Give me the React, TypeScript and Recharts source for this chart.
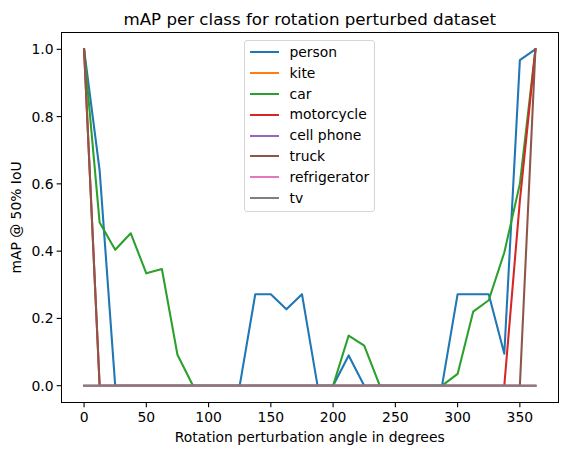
import { LineChart, Line, XAxis, YAxis, Legend } from 'recharts'

// rotation angles (degrees) the model was evaluated at
const angles = [
  0, 12.5, 25, 37.5, 50, 62.5, 75, 87.5, 100, 112.5, 125, 137.5, 150, 162.5, 175,
  187.5, 200, 212.5, 225, 237.5, 250, 262.5, 275, 287.5, 300, 312.5, 325, 337.5, 350, 362.5,
]

const person = [
  1.0, 0.64, 0, 0, 0, 0, 0, 0, 0, 0, 0, 0.272, 0.272, 0.227, 0.272,
  0, 0, 0.09, 0, 0, 0, 0, 0, 0, 0.272, 0.272, 0.272, 0.095, 0.968, 1.0,
]
const kite = [
  0, 0, 0, 0, 0, 0, 0, 0, 0, 0, 0, 0, 0, 0, 0,
  0, 0, 0, 0, 0, 0, 0, 0, 0, 0, 0, 0, 0, 0, 0,
]
const car = [
  1.0, 0.485, 0.404, 0.453, 0.334, 0.347, 0.092, 0, 0, 0, 0, 0, 0, 0, 0,
  0, 0, 0.149, 0.119, 0, 0, 0, 0, 0, 0.035, 0.22, 0.254, 0.396, 0.6, 1.0,
]
const motorcycle = [
  1.0, 0, 0, 0, 0, 0, 0, 0, 0, 0, 0, 0, 0, 0, 0,
  0, 0, 0, 0, 0, 0, 0, 0, 0, 0, 0, 0, 0, 0.55, 1.0,
]
const cellPhone = [
  0, 0, 0, 0, 0, 0, 0, 0, 0, 0, 0, 0, 0, 0, 0,
  0, 0, 0, 0, 0, 0, 0, 0, 0, 0, 0, 0, 0, 0, 0,
]
const truck = [
  1.0, 0, 0, 0, 0, 0, 0, 0, 0, 0, 0, 0, 0, 0, 0,
  0, 0, 0, 0, 0, 0, 0, 0, 0, 0, 0, 0, 0, 0, 1.0,
]
const refrigerator = [
  0, 0, 0, 0, 0, 0, 0, 0, 0, 0, 0, 0, 0, 0, 0,
  0, 0, 0, 0, 0, 0, 0, 0, 0, 0, 0, 0, 0, 0, 0,
]
const tv = [
  0, 0, 0, 0, 0, 0, 0, 0, 0, 0, 0, 0, 0, 0, 0,
  0, 0, 0, 0, 0, 0, 0, 0, 0, 0, 0, 0, 0, 0, 0,
]

const xTicks = [0, 50, 100, 150, 200, 250, 300, 350]
const yTicks = [0, 0.2, 0.4, 0.6, 0.8, 1.0]

const series = [
  { key: 'person', name: 'person', color: '#1f77b4', values: person },
  { key: 'kite', name: 'kite', color: '#ff7f0e', values: kite },
  { key: 'car', name: 'car', color: '#2ca02c', values: car },
  { key: 'motorcycle', name: 'motorcycle', color: '#d62728', values: motorcycle },
  { key: 'cellPhone', name: 'cell phone', color: '#9467bd', values: cellPhone },
  { key: 'truck', name: 'truck', color: '#8c564b', values: truck },
  { key: 'refrigerator', name: 'refrigerator', color: '#e377c2', values: refrigerator },
  { key: 'tv', name: 'tv', color: '#7f7f7f', values: tv },
]

const data = angles.map((angle, i) => {
  const row: Record<string, number> = { angle }
  series.forEach((s) => {
    row[s.key] = s.values[i]
  })
  return row
})

const FONT = '"DejaVu Sans", sans-serif'
const W = 567
const H = 455
// plot rectangle, matplotlib-ish
const PL = 61.5
const PT = 32.5
const PR = 558
const PB = 402.5
const xMin = -18.125
const xMax = 380.625
const SPINE = 1.1

// legend keeps the plotting order (recharts would sort it)
function LegendBox() {
  return (
    <div
      style={{
        width: 131,
        height: 172,
        boxSizing: 'border-box',
        border: '1px solid #d6d6d6',
        borderRadius: 3,
        background: 'rgba(255,255,255,0.8)',
        paddingTop: 1.5,
        fontFamily: FONT,
        fontSize: 13.9,
        color: '#000',
      }}
    >
      {series.map((s) => (
        <div key={s.key} style={{ position: 'relative', height: 20.8, lineHeight: '20.8px' }}>
          <div
            style={{
              position: 'absolute',
              left: 5,
              top: 9.4,
              width: 29,
              height: 2.1,
              background: s.color,
            }}
          />
          <span style={{ position: 'absolute', left: 44.5, top: 0 }}>{s.name}</span>
        </div>
      ))}
    </div>
  )
}

export default function App() {
  return (
    <div style={{ position: 'absolute', left: 0, top: 0, width: W, height: H, background: '#fff', fontFamily: FONT }}>
      <div
        style={{
          position: 'absolute',
          left: (PL + PR) / 2 - 250,
          top: 9.7,
          width: 500,
          textAlign: 'center',
          fontSize: 16.67,
          lineHeight: '20px',
          color: '#000',
        }}
      >
        mAP per class for rotation perturbed dataset
      </div>
      <LineChart
        width={W}
        height={H}
        data={data}
        margin={{ top: PT, right: W - PR, bottom: 0, left: 0 }}
        style={{ fontFamily: FONT }}
      >
        <XAxis
          dataKey="angle"
          type="number"
          domain={[xMin, xMax]}
          ticks={xTicks}
          allowDataOverflow
          height={H - PB}
          axisLine={false}
          stroke="#000"
          tickSize={4.86}
          tickMargin={4.6}
          tickLine={{ stroke: '#000', strokeWidth: SPINE }}
          tick={{ fill: '#000', fontSize: 13.9 }}
          label={() => (
            <text x={(PL + PR) / 2} y={441.7} textAnchor="middle" fontSize={13.9} fill="#000">
              Rotation perturbation angle in degrees
            </text>
          )}
        />
        <YAxis
          type="number"
          domain={[-0.05, 1.05]}
          ticks={yTicks}
          allowDataOverflow
          width={PL}
          axisLine={false}
          stroke="#000"
          tickSize={4.86}
          tickMargin={3}
          tickLine={{ stroke: '#000', strokeWidth: SPINE }}
          tick={{ fill: '#000', fontSize: 13.9 }}
          tickFormatter={(v: number) => v.toFixed(1)}
          label={() => (
            <text
              x={21.3}
              y={(PT + PB) / 2}
              transform={`rotate(-90, 21.3, ${(PT + PB) / 2})`}
              textAnchor="middle"
              fontSize={13.9}
              fill="#000"
            >
              mAP @ 50% IoU
            </text>
          )}
        />
        {series.map((s) => (
          <Line
            key={s.key}
            type="linear"
            dataKey={s.key}
            name={s.name}
            stroke={s.color}
            strokeWidth={2.08}
            strokeLinejoin="round"
            strokeLinecap="square"
            dot={false}
            activeDot={false}
            isAnimationActive={false}
          />
        ))}
        <Legend
          layout="vertical"
          align="center"
          verticalAlign="middle"
          content={<LegendBox />}
          wrapperStyle={{ position: 'absolute', left: 244, top: 39.5, width: 131, height: 172 }}
        />
      </LineChart>
      {/* axes frame (all four spines) */}
      <div
        style={{
          position: 'absolute',
          left: PL - SPINE / 2,
          top: PT - SPINE / 2,
          width: PR - PL + SPINE,
          height: PB - PT + SPINE,
          boxSizing: 'border-box',
          border: `${SPINE}px solid #000`,
          pointerEvents: 'none',
        }}
      />
    </div>
  )
}
